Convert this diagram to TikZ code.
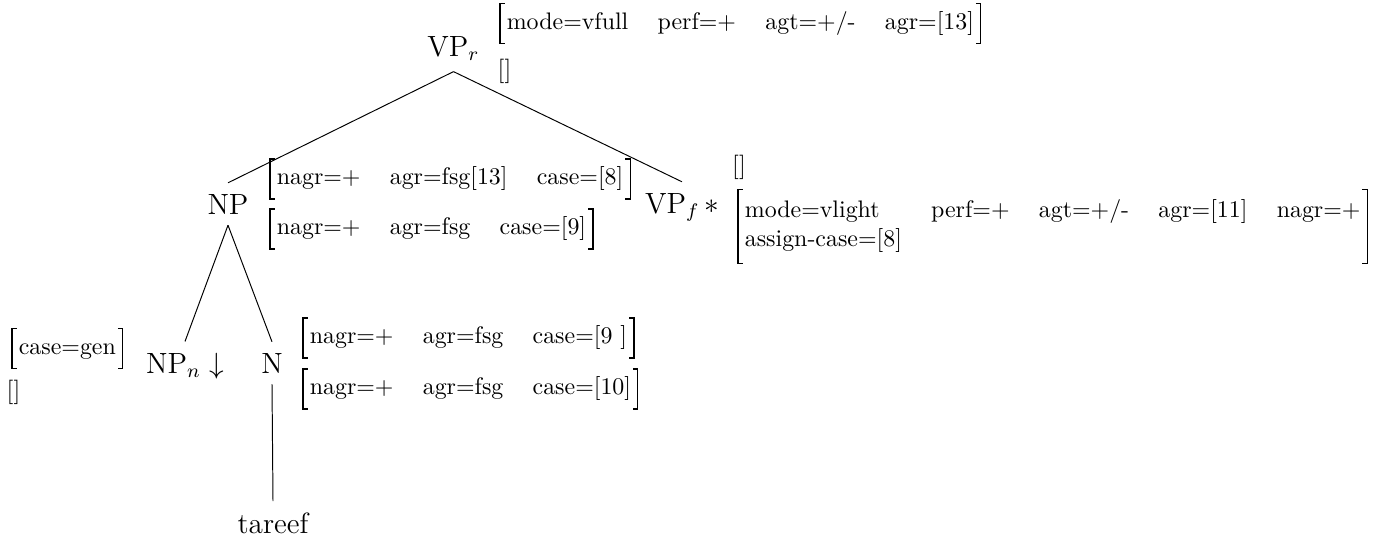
\documentclass[tikz,border=0pt]{standalone}
\newcommand{\avmbrackets}[1]{%
  \draw[brk] ([xshift=2pt]#1.north west) -- (#1.north west) -- (#1.south west) -- ([xshift=2pt]#1.south west);
  \draw[brk] ([xshift=-2pt]#1.north east) -- (#1.north east) -- (#1.south east) -- ([xshift=-2pt]#1.south east);}
\begin{document}
\begin{tikzpicture}[x=0.41pt,y=-0.41pt,
  lbl/.style={font=\fontsize{12}{14}\selectfont, inner xsep=1pt, inner ysep=4.4pt, anchor=base},
  fs/.style={font=\fontsize{9.8}{11.8}\selectfont, inner xsep=2.6pt, inner ysep=0pt, minimum height=16pt, anchor=west},
  fstwo/.style={fs, minimum height=30pt},
  emptyfs/.style={font=\fontsize{10}{12}\selectfont, inner sep=0pt, anchor=base},
  brk/.style={line width=0.5pt},
  branch/.style={line width=0.4pt}]
\useasboundingbox (0,0) rectangle (1380,538);

% tree labels
\node[lbl] (vpr) at (453.5,56) {VP$_r$};
\node[lbl] (np) at (228,214) {NP};
\node[lbl] (vpf) at (682,213) {VP$_f\,*$};
\node[lbl] (npn) at (185,373) {NP$_n\downarrow$};
\node[lbl] (n) at (272,373) {N};
\node[lbl] (tareef) at (273,533) {tareef};

% branches
\draw[branch] (vpr.south) -- (np.north);
\draw[branch] (vpr.south) -- (vpf.north);
\draw[branch] (np.south) -- (npn.north);
\draw[branch] (np.south) -- (n.north);
\draw[branch] (n.south) -- (tareef.north);

% feature structures
\node[fs] (vprtop) at (500,23.5) {\begin{tabular}{@{}llll@{}}mode=vfull & perf=+ & agt=+/- & agr=[13]\end{tabular}};
\avmbrackets{vprtop}
\node[emptyfs] (vprbot) at (504.5,77) {[]};

\node[fs] (nptop) at (270,179) {\begin{tabular}{@{}lll@{}}nagr=+ & agr=fsg[13] & case=[8]\end{tabular}};
\avmbrackets{nptop}
\node[fs] (npbot) at (270,229) {\begin{tabular}{@{}lll@{}}nagr=+ & agr=fsg & case=[9]\end{tabular}};
\avmbrackets{npbot}

\node[emptyfs] (vpftop) at (739,173) {[]};
\node[fstwo] (vpfbot) at (738,226.5) {\begin{tabular}{@{}lllll@{}}mode=vlight & perf=+ & agt=+/- & agr=[11] & nagr=+\\ assign-case=[8] &&&&\end{tabular}};
\avmbrackets{vpfbot}

\node[fs] (npntop) at (12,348.5) {\begin{tabular}{@{}l@{}}case=gen\end{tabular}};
\avmbrackets{npntop}
\node[emptyfs] (npnbot) at (13.5,398) {[]};

\node[fs] (ntop) at (303,338) {\begin{tabular}{@{}lll@{}}nagr=+ & agr=fsg & case=[9\ ]\end{tabular}};
\avmbrackets{ntop}
\node[fs] (nbot) at (303,389) {\begin{tabular}{@{}lll@{}}nagr=+ & agr=fsg & case=[10]\end{tabular}};
\avmbrackets{nbot}
\end{tikzpicture}
\end{document}
